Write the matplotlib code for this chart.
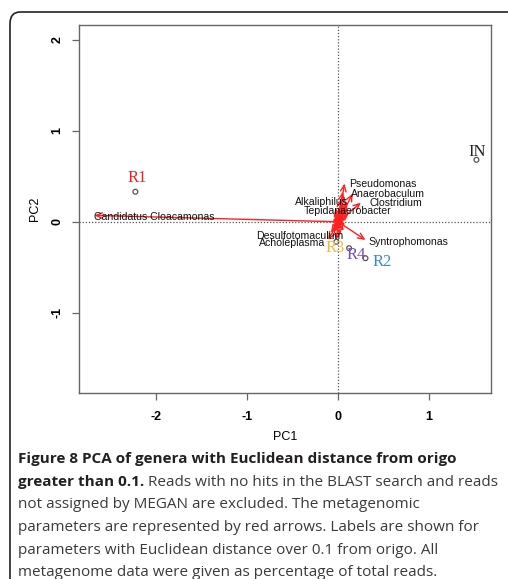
import matplotlib
matplotlib.use("Agg")
import matplotlib.pyplot as plt
from matplotlib.patches import FancyBboxPatch

plt.rcParams["axes.unicode_minus"] = False

# sample scores (PC1, PC2) and where their names sit
samples = ["R1", "R2", "R3", "R4", "IN"]
sample_pc1 = [-2.23, 0.30, -0.02, 0.12, 1.52]
sample_pc2 = [0.33, -0.40, -0.22, -0.29, 0.68]
sample_lab_pc1 = [-2.21, 0.48, -0.03, 0.20, 1.53]
sample_lab_pc2 = [0.48, -0.44, -0.29, -0.37, 0.77]
sample_colors = ["#f02020", "#3a8ad0", "#f5b83a", "#7a4fb0", "#222222"]

# genus loadings with labels (arrow tips and label centres)
genera = ["Candidatus Cloacamonas", "Pseudomonas", "Anaerobaculum", "Clostridium",
          "Alkaliphilus", "Tepidanaerobacter", "Desulfotomaculum", "Acholeplasma",
          "Syntrophomonas"]
gen_pc1 = [-2.68, 0.07, 0.16, 0.25, 0.10, 0.06, -0.05, -0.11, 0.30]
gen_pc2 = [0.07, 0.42, 0.31, 0.21, 0.22, 0.12, -0.12, -0.20, -0.20]
gen_lab_pc1 = [-2.02, 0.49, 0.55, 0.63, -0.18, 0.10, -0.42, -0.51, 0.77]
gen_lab_pc2 = [0.055, 0.41, 0.31, 0.21, 0.22, 0.12, -0.16, -0.23, -0.22]

# short, unlabelled loadings near the origin
small_pc1 = [0.05, 0.08, -0.04, 0.03, 0.09, -0.06, 0.02, 0.06, -0.03, 0.04,
             0.10, -0.02, 0.07, 0.01, -0.05, 0.03, 0.08, 0.12, -0.08, 0.05,
             0.00, 0.02, -0.03, 0.04, -0.01]
small_pc2 = [0.33, 0.18, 0.10, 0.25, 0.05, -0.05, -0.15, -0.10, 0.15, 0.08,
             0.14, -0.20, 0.28, 0.12, 0.03, -0.08, -0.03, 0.10, -0.12, 0.20,
             0.07, -0.04, 0.06, 0.02, -0.09]

caption_bold_1 = "Figure 8 PCA of genera with Euclidean distance from origo"
caption_bold_2 = "greater than 0.1."
caption_rest_2 = " Reads with no hits in the BLAST search and reads"
caption_lines = [
    "not assigned by MEGAN are excluded. The metagenomic",
    "parameters are represented by red arrows. Labels are shown for",
    "parameters with Euclidean distance over 0.1 from origo. All",
    "metagenome data were given as percentage of total reads.",
]

fig = plt.figure(figsize=(5.08, 5.79), dpi=100)
ax = fig.add_axes([0.1555, 0.3212, 0.811, 0.6356])
ax.set_xlim(-2.85, 1.68)
ax.set_ylim(-1.88, 2.16)

ax.axhline(0, color="#555555", lw=0.9, ls=(0, (1, 1.5)))
ax.axvline(0, color="#555555", lw=0.9, ls=(0, (1, 1.5)))

arrow_kw = dict(arrowstyle="->,head_length=0.45,head_width=0.2", color="#ff2020",
                lw=1.0, shrinkA=0, shrinkB=0)
for x, y in zip(small_pc1, small_pc2):
    ax.annotate("", xy=(x, y), xytext=(0, 0), arrowprops=arrow_kw)
for x, y in zip(gen_pc1, gen_pc2):
    ax.annotate("", xy=(x, y), xytext=(0, 0), arrowprops=arrow_kw)
for name, x, y in zip(genera, gen_lab_pc1, gen_lab_pc2):
    ax.text(x, y, name, ha="center", va="center", fontsize=7.6,
            family="Liberation Sans", color="#111111")

ax.scatter(sample_pc1, sample_pc2, s=12, facecolors="none",
           edgecolors="#555555", linewidths=0.9, zorder=3)
for name, x, y, c in zip(samples, sample_lab_pc1, sample_lab_pc2, sample_colors):
    ax.text(x, y, name, ha="center", va="center", fontsize=12,
            family="Liberation Serif", color=c)

for side in ax.spines.values():
    side.set_color("#666666")
    side.set_linewidth(1.0)
ax.set_xticks([-2, -1, 0, 1])
ax.set_yticks([-1, 0, 1, 2])
ax.tick_params(length=5, width=0.9, color="#666666", labelsize=9, pad=8)
ax.tick_params(axis="y", pad=6)
for t in ax.get_yticklabels():
    t.set_rotation(90)
    t.set_va("center")
for t in ax.get_xticklabels() + ax.get_yticklabels():
    t.set_family("Liberation Sans")
    t.set_weight("bold")
ax.set_xlabel("PC1", fontsize=9, family="Liberation Sans", labelpad=6)
ax.set_ylabel("PC2", fontsize=9, family="Liberation Sans", labelpad=8)

# rounded frame around the figure panel
frame = FancyBboxPatch((10 / 508, -0.05), 1.2, 1 - 12 / 579 + 0.05,
                       boxstyle="round,pad=0,rounding_size=0.02",
                       transform=fig.transFigure, fill=False,
                       edgecolor="#222222", lw=1.2, clip_on=False)
fig.patches.append(frame)

# caption lines, placed by baseline so spacing stays even
cap_kw = dict(fontsize=11.0, family="Open Sans", va="baseline")
x0 = 18 / 508
ys = [463, 486, 508, 531, 554, 576]
fig.text(x0, 1 - ys[0] / 579, caption_bold_1, weight="bold", color="#231f20", **cap_kw)
b2 = fig.text(x0, 1 - ys[1] / 579, caption_bold_2, weight="bold", color="#231f20", **cap_kw)
fig.canvas.draw()
bb = b2.get_window_extent(fig.canvas.get_renderer())
fig.text(bb.x1 / fig.bbox.width, 1 - ys[1] / 579, caption_rest_2, color="#3a3a3a", **cap_kw)
for line, y in zip(caption_lines, ys[2:]):
    fig.text(x0, 1 - y / 579, line, color="#3a3a3a", **cap_kw)

fig.savefig("out.png", dpi=100)
